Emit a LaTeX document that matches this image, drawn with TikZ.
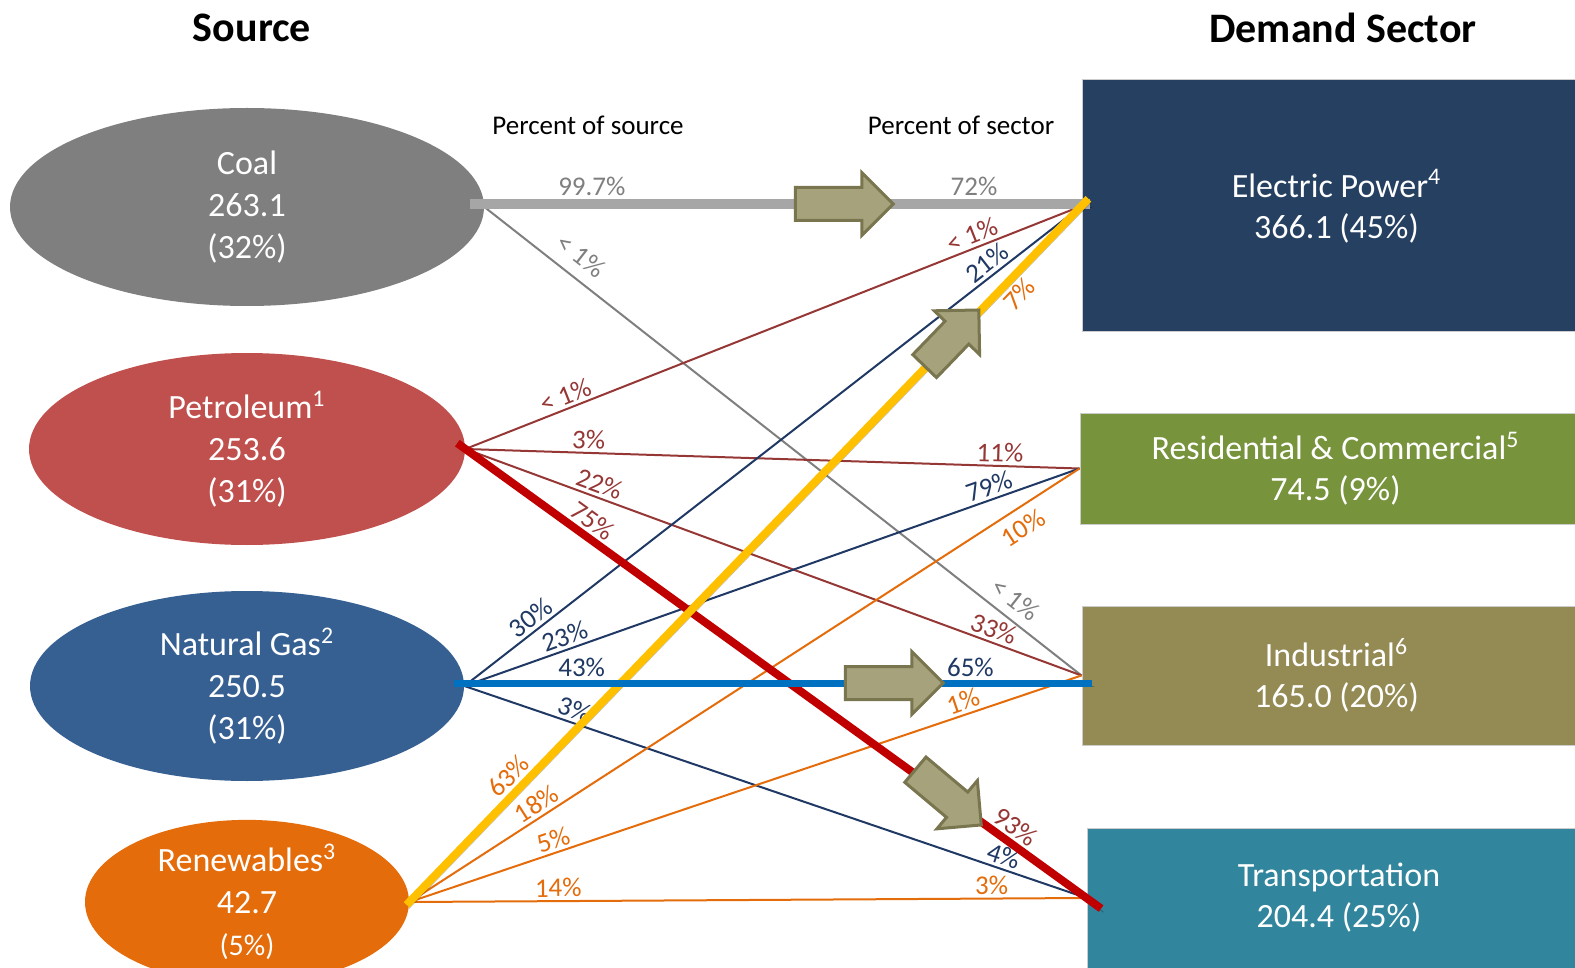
\documentclass[tikz,border=0pt]{standalone}
\usepackage{fontspec}
\setmainfont{Carlito}
\usetikzlibrary{shapes,shapes.arrows,positioning}
\definecolor{ccoal}{HTML}{7F7F7F}
\definecolor{cpetfill}{HTML}{C0504D}
\definecolor{cgasfill}{HTML}{376092}
\definecolor{crenfill}{HTML}{E46C0A}
\definecolor{cgrayln}{HTML}{A6A6A6}
\definecolor{cpet}{HTML}{953735}
\definecolor{cgas}{HTML}{1F3864}
\definecolor{cren}{HTML}{E46C0A}
\definecolor{credln}{HTML}{C00000}
\definecolor{cblueln}{HTML}{0070C0}
\definecolor{cyellow}{HTML}{FFC000}
\definecolor{celec}{HTML}{264061}
\definecolor{cres}{HTML}{77933C}
\definecolor{cind}{HTML}{948A54}
\definecolor{ctrans}{HTML}{31859C}
\definecolor{carrfill}{HTML}{A6A27B}
\definecolor{carrline}{HTML}{78754F}
\tikzstyle{src}=[ellipse, inner sep=0pt, text=white, align=center, font=\fontsize{17}{21}\selectfont]
\tikzstyle{sector}=[rectangle, inner sep=0pt, text=white, align=center, draw=black!20, line width=0.5pt, font=\fontsize{17}{20.5}\selectfont]
\tikzstyle{heading}=[font=\fontsize{21}{25}\selectfont\bfseries]
\tikzstyle{colhead}=[font=\fontsize{13.5}{16}\selectfont]
\tikzstyle{pct}=[font=\fontsize{13.5}{16}\selectfont, sloped, inner sep=1.5pt]
\tikzstyle{l1}=[line width=1pt]
\tikzstyle{thick1}=[line width=4pt, preaction={draw=black, opacity=.25, transform canvas={shift={(1.2pt,-1.8pt)}}}]
\tikzstyle{bigarrow}=[single arrow, draw=carrline, fill=carrfill, line width=1.5pt, inner xsep=0pt, inner ysep=7.5pt, single arrow head extend=7.5pt]

\begin{document}
\begin{tikzpicture}[x=0.5pt, y=-0.5pt]
    \useasboundingbox (0,0) rectangle (1575,968);
    \node (ttlsrc) [heading] at (252,28) {Source};
    \node (ttlsec) [heading] at (1343,28) {Demand Sector};
    \node (hdsrc) [colhead] at (588,125) {Percent of source};
    \node (hdsec) [colhead] at (961,125) {Percent of sector};

    \node (coal) [src, fill=ccoal, minimum width=237pt, minimum height=99pt] at (247,207) {Coal\\263.1\\(32\%)};
    \node (pet) [src, fill=cpetfill, minimum width=218pt, minimum height=96pt] at (247,449) {Petroleum\textsuperscript{1}\\253.6\\(31\%)};
    \node (gas) [src, fill=cgasfill, minimum width=217pt, minimum height=95pt] at (247,686) {Natural Gas\textsuperscript{2}\\250.5\\(31\%)};
    \node (ren) [src, fill=crenfill, minimum width=162pt, minimum height=72pt] at (247,902) {Renewables\textsuperscript{3}\\42.7\\{\fontsize{15}{18}\selectfont(5\%)}};

    \node (elec) [sector, fill=celec, minimum width=254.5pt, minimum height=126pt] at (1336.5,206) {Electric Power\textsuperscript{4}\\366.1 (45\%)};
    \node (res) [sector, fill=cres, minimum width=255.5pt, minimum height=55.5pt] at (1335.5,468.5) {Residential \& Commercial\textsuperscript{5}\\74.5 (9\%)};
    \node (ind) [sector, fill=cind, minimum width=254.5pt, minimum height=69.5pt] at (1336.5,675.5) {Industrial\textsuperscript{6}\\165.0 (20\%)};
    \node (trans) [sector, fill=ctrans, minimum width=252pt, minimum height=70pt] at (1339,898) {Transportation\\204.4 (25\%)};

    % thin flows
    \draw[l1, ccoal] (coal.east) -- (ind.west) node[pct, above=4pt, pos=.14] {< 1\%} node[pct, above=3pt, pos=.87] {< 1\%};
    \draw[l1, cpet] (pet.east) -- (elec.west) node[pct, above, pos=.17] {< 1\%} node[pct, above, pos=.83] {< 1\%};
    \draw[l1, cpet] (pet.east) -- (res.west) node[pct, above, pos=.2] {3\%} node[pct, above, pos=.87] {11\%};
    \draw[l1, cpet] (pet.east) -- (ind.west) node[pct, above, pos=.21] {22\%} node[pct, above, pos=.85] {33\%};
    \draw[l1, cgas] (gas.east) -- (elec.west) node[pct, above, pos=.12] {30\%} node[pct, above, pos=.86] {21\%};
    \draw[l1, cgas] (gas.east) -- (res.west) node[pct, above, pos=.17] {23\%} node[pct, above, pos=.86] {79\%};
    \draw[l1, cgas] (gas.east) -- (trans.west) node[pct, above, pos=.17] {3\%} node[pct, above, pos=.86] {4\%};
    \draw[l1, cren] (ren.east) -- (elec.west);
    \draw[l1, cren] (ren.east) -- (res.west) node[pct, above, pos=.2] {18\%} node[pct, below=3pt, pos=.9] {10\%};
    \draw[l1, cren] (ren.east) -- (ind.west) node[pct, above, pos=.22] {5\%} node[pct, above, pos=.83] {1\%};
    \draw[l1, cren] (ren.east) -- (trans.west) node[pct, above, pos=.22] {14\%} node[pct, above, pos=.86] {3\%};

    % main flows
    \draw[thick1, ccoal, draw=cgrayln, line width=5pt, shorten <=-7pt, shorten >=-4pt] ([yshift=1.5pt]coal.east) -- ([yshift=1.5pt]coal.east -| elec.west) node[pct, above, pos=.18] {99.7\%} node[pct, above, pos=.82] {72\%};
    \draw[thick1, cpet, draw=credln, shorten <=-5pt, shorten >=-9pt] (pet.east) -- (trans.west) node[pct, above, pos=.19] {75\%} node[pct, above, pos=.87] {93\%};
    \draw[thick1, cren, draw=cyellow, shorten <=-2pt, shorten >=-5pt] (ren.east) -- (elec.west) node[pct, above, pos=.165] {63\%} node[pct, below, pos=.89] {7\%};
    \draw[thick1, cgas, draw=cblueln, line width=3.5pt, shorten <=-5pt, shorten >=-5pt] ([yshift=1.5pt]gas.east) -- ([yshift=1.5pt]gas.east -| ind.west) node[pct, above, pos=.19] {43\%} node[pct, above, pos=.82] {65\%};

    \node (arrcoal) [bigarrow, minimum height=49pt] at (836,204) {};
    \node (arrren) [bigarrow, minimum height=39pt, rotate=46] at (946,344) {};
    \node (arrgas) [bigarrow, minimum height=49pt] at (886,683) {};
    \node (arrpet) [bigarrow, minimum height=43pt, rotate=-40] at (942,792) {};
\end{tikzpicture}
\end{document}
